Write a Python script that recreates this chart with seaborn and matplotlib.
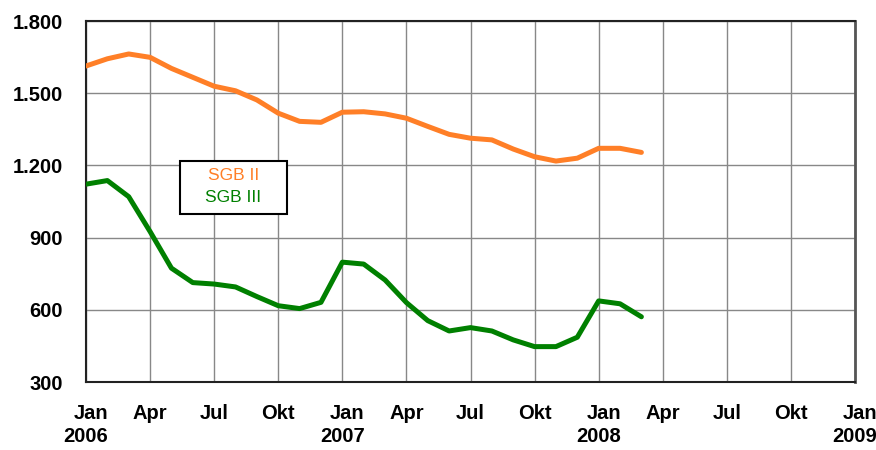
import matplotlib
matplotlib.use("Agg")
import matplotlib.pyplot as plt
from matplotlib.patches import Rectangle
import seaborn as sns
import pandas as pd

# Monthly values, Jan 2006 .. Mar 2008
months = list(range(27))
sgb2 = [1613, 1643, 1663, 1649, 1603, 1566, 1529, 1510, 1472, 1417, 1383, 1379,
        1421, 1423, 1414, 1396, 1362, 1329, 1313, 1306, 1268, 1236, 1218, 1230,
        1271, 1271, 1254]
sgb3 = [1122, 1137, 1070, 925, 773, 713, 707, 695, 655, 617, 605, 631,
        798, 790, 724, 630, 555, 512, 526, 512, 475, 447, 447, 486,
        637, 625, 571]
series_names = ["SGB II", "SGB III"]
series_colors = ["#FF7F27", "#008000"]

x_tick_pos = list(range(0, 37, 3))
x_tick_labels = ["Jan\n2006", "Apr", "Jul", "Okt", "Jan\n2007", "Apr", "Jul", "Okt",
                 "Jan\n2008", "Apr", "Jul", "Okt", "Jan\n2009"]
y_ticks = [300, 600, 900, 1200, 1500, 1800]
y_tick_labels = ["300", "600", "900", "1.200", "1.500", "1.800"]

df = pd.DataFrame({
    "Monat": months * 2,
    "Wert": sgb2 + sgb3,
    "Reihe": [series_names[0]] * len(sgb2) + [series_names[1]] * len(sgb3),
})

sns.set_theme(style="white")
plt.rcParams["font.family"] = ["Liberation Sans", "DejaVu Sans"]

fig = plt.figure(figsize=(8.76, 4.5), dpi=100)
ax = fig.add_axes([86 / 876, 1 - 382 / 450, (855 - 86) / 876, (382 - 21) / 450])

sns.lineplot(data=df, x="Monat", y="Wert", hue="Reihe", palette=series_colors,
             linewidth=3.6, legend=False, ax=ax, zorder=3)

ax.set_xlim(0, 36)
ax.set_ylim(300, 1800)
ax.set_xticks(x_tick_pos)
ax.set_xticklabels(x_tick_labels, fontsize=14.5, fontweight="bold", color="black",
                   linespacing=1.3, multialignment="right")
ax.set_yticks(y_ticks)
ax.set_yticklabels(y_tick_labels, fontsize=14.5, fontweight="bold", color="black")
ax.tick_params(axis="x", length=0, pad=15.5)
ax.tick_params(axis="y", length=0, pad=16.5)
ax.set_xlabel("")
ax.set_ylabel("")

ax.grid(True, color="#888888", linewidth=1)
ax.set_axisbelow(True)
for side in ["left", "bottom", "top", "right"]:
    ax.spines[side].set_color("#222222")
    ax.spines[side].set_linewidth(1.5)
ax.spines["right"].set_color("#555555")
ax.spines["right"].set_linewidth(2)

# Boxed series key
bx0, by0, bw, bh = 180 / 876, 1 - 214 / 450, 107 / 876, 53 / 450
fig.patches.append(Rectangle((bx0, by0), bw, bh, transform=fig.transFigure,
                             facecolor="white", edgecolor="black", linewidth=1.5,
                             zorder=5))
for name, color, ypix in zip(series_names, series_colors, [175, 198]):
    fig.text(bx0 + bw / 2, 1 - ypix / 450, name, color=color, fontsize=12.5,
             ha="center", va="center", zorder=6)

fig.savefig("out.png", dpi=100)
